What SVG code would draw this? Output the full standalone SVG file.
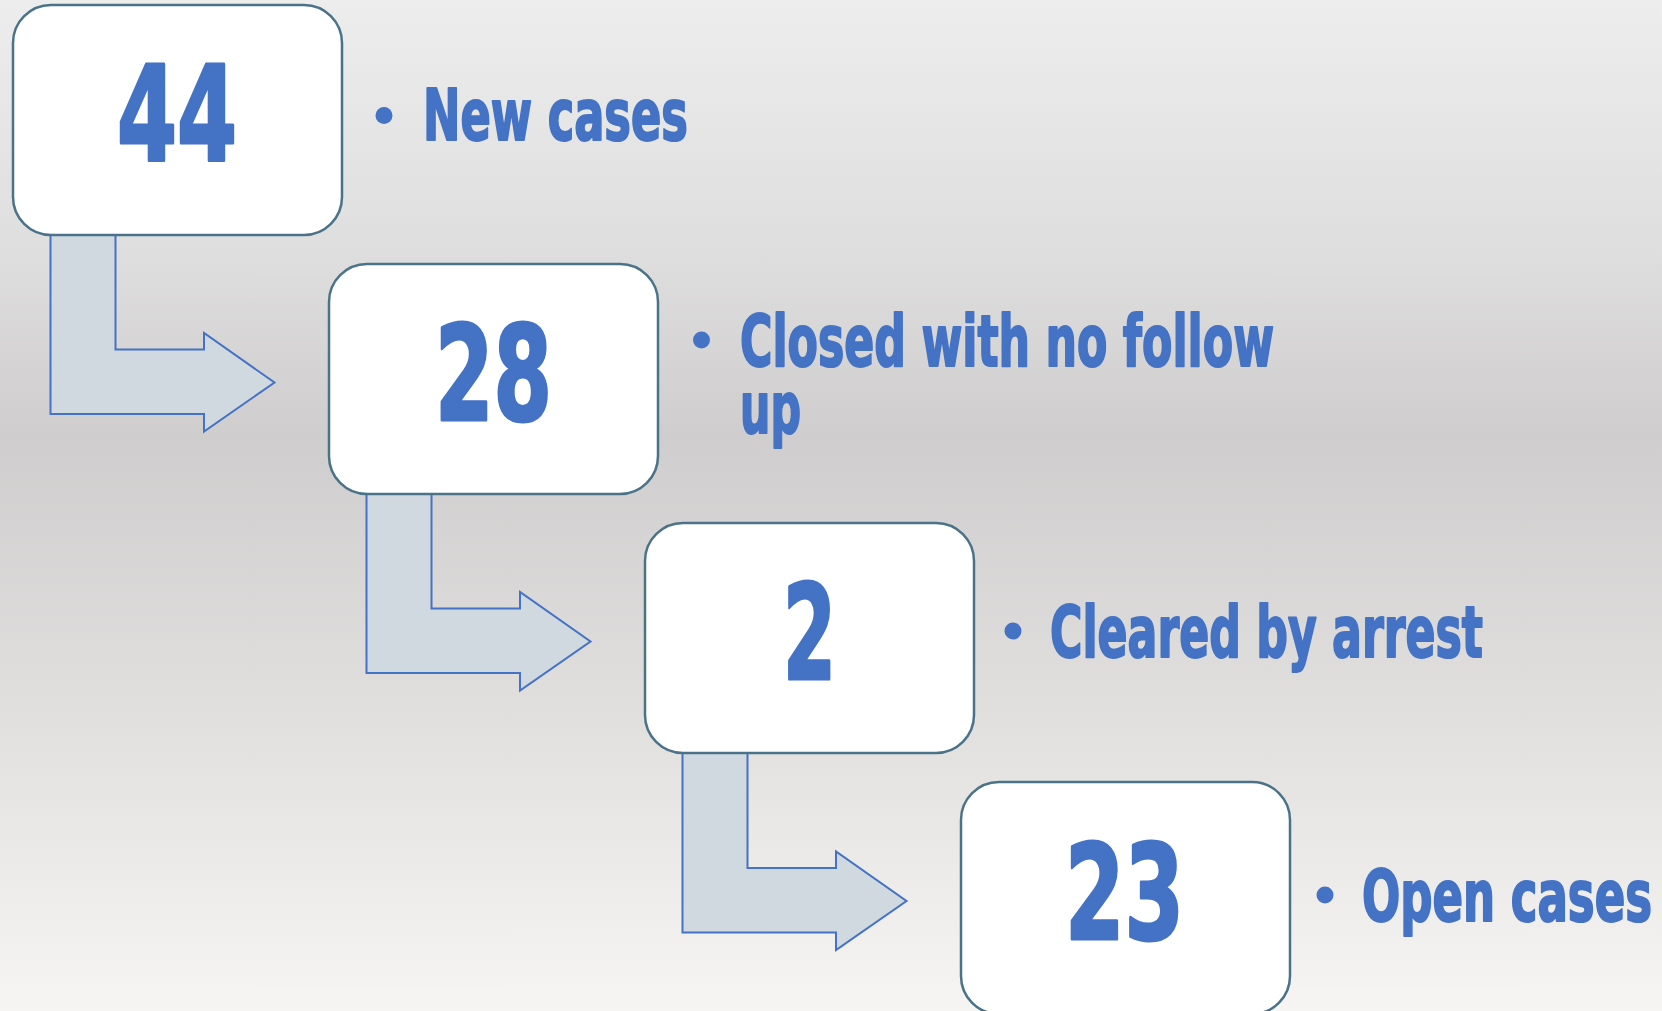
<svg xmlns="http://www.w3.org/2000/svg" width="1662" height="1011" viewBox="0 0 1662 1011">
<defs>
<linearGradient id="bg" x1="0" y1="0" x2="0" y2="1">
<stop offset="0" stop-color="#EDEDED"/>
<stop offset="0.25" stop-color="#DFDEDE"/>
<stop offset="0.43" stop-color="#CFCDCD"/>
<stop offset="0.7" stop-color="#E0DFDE"/>
<stop offset="1" stop-color="#F6F5F3"/>
</linearGradient>
<style>
.box{fill:#FFFFFF;stroke:#4A7389;stroke-width:2.5}
.arr{fill:#D0D8E0;stroke:#4472C4;stroke-width:2}
.num{font-family:"DejaVu Sans",sans-serif;font-weight:bold;font-stretch:condensed;font-size:132px;fill:#4472C4;stroke:#4472C4;stroke-width:3;stroke-linejoin:round}
.lbl{font-family:"DejaVu Sans",sans-serif;font-weight:bold;font-stretch:condensed;font-size:72px;fill:#4472C4;stroke:#4472C4;stroke-width:2;stroke-linejoin:round}
.dot{fill:#4472C4}
</style>
</defs>
<rect x="0" y="0" width="1662" height="1011" fill="url(#bg)"/>
<g id="connectors">
<path class="arr" d="M50.5,235 V414 H204 V431.5 L274.5,382.5 L204,333 V349.5 H115.5 V235"/>
<path class="arr" d="M366.5,494 V673 H520 V690.5 L590.5,641.5 L520,592 V608.5 H431.5 V494"/>
<path class="arr" d="M682.5,753 V932.5 H836 V950 L906.5,901 L836,851.5 V868 H747.5 V753"/>
</g>
<g id="node-44">
<rect class="box" x="13" y="5" width="329" height="230" rx="38" ry="38"/>
<text class="num" x="117" y="161" textLength="120" lengthAdjust="spacingAndGlyphs">44</text>
<circle class="dot" cx="384" cy="115.5" r="8.5"/>
<text class="lbl" x="423" y="140" textLength="265" lengthAdjust="spacingAndGlyphs">New cases</text>
</g>
<g id="node-28">
<rect class="box" x="329" y="264" width="329" height="230" rx="38" ry="38"/>
<text class="num" x="435" y="420" textLength="117" lengthAdjust="spacingAndGlyphs">28</text>
<circle class="dot" cx="701.5" cy="340" r="8.5"/>
<text class="lbl" x="740" y="366" textLength="534" lengthAdjust="spacingAndGlyphs">Closed with no follow</text>
<text class="lbl" x="740" y="433" textLength="61" lengthAdjust="spacingAndGlyphs">up</text>
</g>
<g id="node-2">
<rect class="box" x="645" y="523" width="329" height="230" rx="38" ry="38"/>
<text class="num" x="783" y="679" textLength="53" lengthAdjust="spacingAndGlyphs">2</text>
<circle class="dot" cx="1013" cy="631" r="8.5"/>
<text class="lbl" x="1050" y="656.5" textLength="433" lengthAdjust="spacingAndGlyphs">Cleared by arrest</text>
</g>
<g id="node-23">
<rect class="box" x="961" y="782" width="329" height="232" rx="38" ry="38"/>
<text class="num" x="1065" y="939" textLength="119" lengthAdjust="spacingAndGlyphs">23</text>
<circle class="dot" cx="1325" cy="895" r="8.5"/>
<text class="lbl" x="1362" y="920.5" textLength="290" lengthAdjust="spacingAndGlyphs">Open cases</text>
</g>
</svg>
